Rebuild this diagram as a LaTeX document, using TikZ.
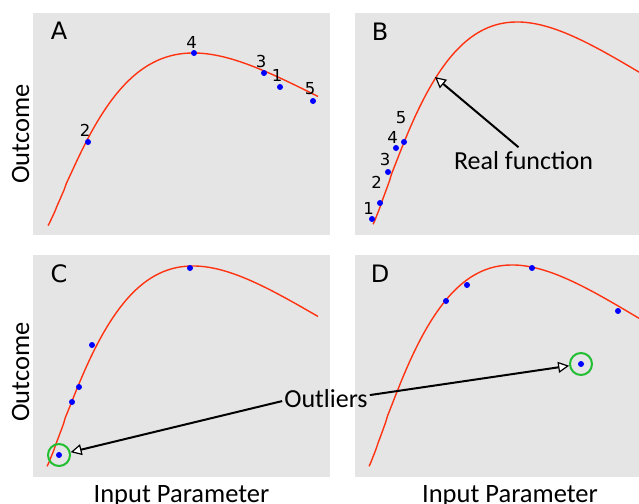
\documentclass[tikz,border=0pt]{standalone}
\usepackage{fontspec}
\setmainfont{Carlito}
\newfontfamily\dejavu{DejaVu Sans}
\usetikzlibrary{arrows.meta}
\definecolor{panelgray}{RGB}{229,229,229}
\definecolor{curvered}{RGB}{255,51,17}
\definecolor{dotblue}{RGB}{0,0,255}
\definecolor{ringgreen}{RGB}{34,190,50}
\begin{document}
\begin{tikzpicture}[x=1pt,y=-1pt,
  panel/.style={fill=panelgray, draw=none},
  curve/.style={draw=curvered, line width=1.4pt},
  dot/.style={circle, fill=dotblue, inner sep=0pt, minimum size=6pt},
  num/.style={font=\dejavu\fontsize{16.5}{16.5}\selectfont, inner sep=0pt},
  letter/.style={font=\dejavu\fontsize{24}{24}\selectfont, inner sep=0pt},
  axislabel/.style={font=\fontsize{26.5}{26.5}\selectfont, inner sep=0pt},
  note/.style={font=\fontsize{26}{26}\selectfont, inner sep=2pt},
  ring/.style={circle, draw=ringgreen, line width=2pt, minimum size=22pt, inner sep=0pt},
  pointer/.style={draw=black, line width=2pt, -{Triangle[length=11pt, width=11pt, fill=white, line width=1.2pt]}}
]
\useasboundingbox (0,0) rectangle (639,503);
\fill[white] (0,0) rectangle (639,503);

% panels
\fill[panel] (33,13) rectangle (330,235);
\fill[panel] (355,13) rectangle (639,235);
\fill[panel] (33,255) rectangle (330,477);
\fill[panel] (355,255) rectangle (639,477);

% curves
\begin{scope}
  \clip (33,13) rectangle (330,235);
  \draw[curve] plot[domain=0.004:1, samples=150, smooth] ({47+271*\x}, {227-174*exp(1.22*(ln(\x/0.54)+1-\x/0.54))});
\end{scope}
\begin{scope}
  \clip (355,13) rectangle (639,235);
  \draw[curve] plot[domain=0.004:1.03, samples=150, smooth] ({372+268.5*\x}, {226-204*exp(1.22*(ln(\x/0.54)+1-\x/0.54))});
\end{scope}
\begin{scope}
  \clip (33,255) rectangle (330,477);
  \draw[curve] plot[domain=0.004:1, samples=150, smooth] ({46+272*\x}, {468-202*exp(1.22*(ln(\x/0.54)+1-\x/0.54))});
\end{scope}
\begin{scope}
  \clip (355,255) rectangle (639,477);
  \draw[curve] plot[domain=0.004:1.03, samples=150, smooth] ({368+266.7*\x}, {468-203*exp(1.22*(ln(\x/0.54)+1-\x/0.54))});
\end{scope}

% panel letters
\node[letter] (la) at (59,31) {A};
\node[letter] (lb) at (380,32) {B};
\node[letter] (lc) at (59,274) {C};
\node[letter] (ld) at (380,274) {D};

% panel A points
\node[dot] (a4) at (194,53) {};
\node[dot] (a3) at (264,73) {};
\node[dot] (a1) at (280,87) {};
\node[dot] (a5) at (313,101) {};
\node[dot] (a2) at (88,142) {};
\node[num] (na4) at (191.5,42) {4};
\node[num] (na3) at (261,61.5) {3};
\node[num] (na1) at (277,75) {1};
\node[num] (na5) at (310,89) {5};
\node[num] (na2) at (85,130) {2};

% panel B points
\node[dot] (b1) at (372,219) {};
\node[dot] (b2) at (380,203) {};
\node[dot] (b3) at (388,172) {};
\node[dot] (b4) at (396,148) {};
\node[dot] (b5) at (404,142) {};
\node[num] (nb1) at (368.5,208) {1};
\node[num] (nb2) at (376.5,182) {2};
\node[num] (nb3) at (385,159) {3};
\node[num] (nb4) at (392.5,137.5) {4};
\node[num] (nb5) at (401,118) {5};

% panel C points
\node[dot] (c1) at (190,268) {};
\node[dot] (c2) at (92,345) {};
\node[dot] (c3) at (79,387) {};
\node[dot] (c4) at (72,402) {};
\node[dot] (c5) at (59,455) {};
\node[ring] (rc) at (59,455) {};

% panel D points
\node[dot] (d1) at (446,301) {};
\node[dot] (d2) at (467,285) {};
\node[dot] (d3) at (532,268) {};
\node[dot] (d4) at (618,311) {};
\node[dot] (d5) at (581,364) {};
\node[ring] (rd) at (581,364) {};

% axis labels
\node[axislabel, rotate=90] (ya) at (20.5,134) {Outcome};
\node[axislabel, rotate=90] (yc) at (20.5,372) {Outcome};
\node[axislabel, anchor=base] (xc) at (181.5,502) {Input Parameter};
\node[axislabel, anchor=base] (xd) at (510,502) {Input Parameter};

% annotations
\node[note, anchor=base] (realfn) at (523.5,169.5) {Real function};
\coordinate (rftip) at (435,77);
\draw[pointer] ([xshift=-5pt,yshift=2pt]realfn.north) -- (rftip);

\node[note, anchor=base] (outl) at (326,407) {Outliers};
\draw[pointer] ([yshift=-3pt]outl.west) -- (rc);
\draw[pointer] ([yshift=3pt]outl.east) -- (rd);
\end{tikzpicture}
\end{document}
